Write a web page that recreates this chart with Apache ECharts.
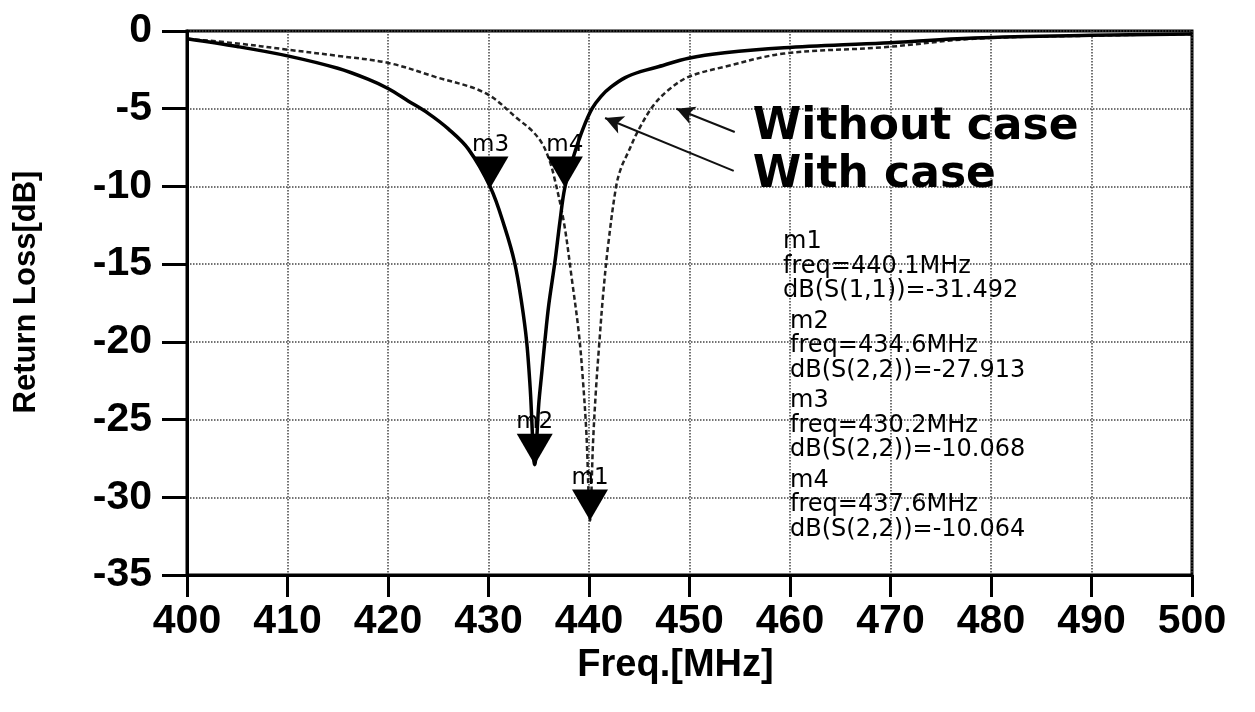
<!DOCTYPE html>
<html><head><meta charset="utf-8">
<script src="https://cdn.jsdelivr.net/npm/echarts@6/dist/echarts.min.js"></script>
<style>html,body{margin:0;padding:0;background:#fff}#c{width:1255px;height:712px}</style>
</head><body><div id="c"></div>
<script>
// ---- data ----
const freqWith = [400, 405, 410, 415, 418, 420, 422, 424, 426, 428, 430.2, 431.6, 432.6, 433.3, 433.8, 434.15, 434.6, 435.0, 435.3, 435.6, 436.0, 436.6, 437.1, 437.6, 438.5, 439.4, 440.3, 441.2, 442.2, 443.6, 445.2, 446.9, 449.9, 453.5, 459.4, 469.3, 478.3, 490, 500];
const dbWith   = [-0.5, -1.0, -1.6, -2.4, -3.1, -3.7, -4.5, -5.3, -6.3, -7.6, -10.07, -12.6, -14.9, -17.5, -20.0, -23.0, -27.9, -24.0, -22.0, -20.0, -17.6, -14.9, -12.3, -10.06, -8.0, -6.3, -5.0, -4.2, -3.6, -3.0, -2.6, -2.3, -1.75, -1.4, -1.08, -0.77, -0.45, -0.28, -0.2];

const freqWithout = [400, 405, 410, 415, 420, 424.7, 429.7, 433.0, 434.3, 435.3, 436.0, 436.5, 437.5, 438.3, 439.0, 439.4, 439.75, 440.1, 440.4, 440.7, 441.0, 441.4, 441.9, 442.7, 443.2, 443.9, 444.9, 446.4, 447.9, 449.9, 453.5, 459.4, 469.3, 478.3, 490, 500];
const dbWithout   = [-0.5, -0.8, -1.2, -1.6, -2.05, -2.95, -4.0, -5.7, -6.4, -7.2, -8.2, -9.3, -12.3, -16.0, -19.5, -22.5, -26.0, -31.5, -26.5, -23.0, -20.3, -17.0, -13.8, -10.0, -8.8, -7.8, -6.4, -4.8, -3.8, -2.95, -2.3, -1.45, -1.05, -0.5, -0.3, -0.2];

const markerNames = ['m1', 'm2', 'm3', 'm4'];
const markerFreq  = [440.1, 434.6, 430.2, 437.6];
const markerDb    = [-31.492, -27.913, -10.068, -10.064];
const markerParam = ['S(1,1)', 'S(2,2)', 'S(2,2)', 'S(2,2)'];

const xMin = 400, xMax = 500, xStep = 10;
const yMin = -35, yMax = 0, yStep = 5;

const noteLabels = ['Without case', 'With case'];
const noteTextAt = [[456.3, -5.95], [456.3, -9.05]];
const noteTail   = [[454.5, -6.5], [454.4, -9.0]];
const noteHead   = [[448.7, -5.0], [441.6, -5.6]];

// ---- chart ----
const chart = echarts.init(document.getElementById('c'), null, {renderer: 'canvas'});
const zip = (a, b) => a.map((v, i) => [v, b[i]]);
const tri = 'path://M0,0 L20,0 L10,16 Z';

const option = {
  animation: false,
  backgroundColor: '#fff',
  grid: {left: 187, right: 63, top: 31, bottom: 137, show: true, borderColor: '#000', borderWidth: 3, backgroundColor: 'transparent'},
  xAxis: {
    type: 'value', min: xMin, max: xMax, interval: xStep,
    name: 'Freq.[MHz]', nameLocation: 'middle', nameGap: 64,
    nameTextStyle: {fontFamily: 'Liberation Sans', fontWeight: 'bold', fontSize: 38, color: '#000', padding: [0, 28, 0, 0]},
    axisLine: {show: true, onZero: false, lineStyle: {color: '#000', width: 3}},
    axisTick: {show: true, inside: false, length: 22, lineStyle: {color: '#000', width: 3}},
    axisLabel: {margin: 26, fontFamily: 'Liberation Sans', fontWeight: 'bold', fontSize: 41, color: '#000'},
    splitLine: {show: true, lineStyle: {color: '#444', type: 'dotted', width: 1.5}}
  },
  yAxis: {
    type: 'value', min: yMin, max: yMax, interval: yStep,
    name: 'Return Loss[dB]', nameLocation: 'middle', nameGap: 145,
    nameTextStyle: {fontFamily: 'Liberation Sans', fontWeight: 'bold', fontSize: 31, color: '#000', padding: [0, 0, 0, 22]},
    axisLine: {show: true, onZero: false, lineStyle: {color: '#000', width: 3}},
    axisTick: {show: true, inside: false, length: 25, lineStyle: {color: '#000', width: 3}},
    axisLabel: {margin: 35, fontFamily: 'Liberation Sans', fontWeight: 'bold', fontSize: 41, color: '#000'},
    splitLine: {show: true, lineStyle: {color: '#444', type: 'dotted', width: 1.5}}
  },
  series: [
    {
      name: 'Without case', type: 'line', data: zip(freqWithout, dbWithout),
      showSymbol: false, smooth: 0.35, z: 3,
      lineStyle: {color: '#222', width: 2.5, type: [5, 3]},
      markLine: {
        silent: true, symbol: ['none', 'arrow'], symbolSize: [14, 18],
        lineStyle: {color: '#111', width: 2, type: 'solid'}, label: {show: false},
        data: noteTail.map((t, i) => [{coord: t}, {coord: noteHead[i]}])
      }
    },
    {
      name: 'With case', type: 'line', data: zip(freqWith, dbWith),
      showSymbol: false, smooth: 0.35, z: 4,
      lineStyle: {color: '#000', width: 3.5, type: 'solid'}
    },
    {
      name: 'markers', type: 'scatter', z: 6,
      data: markerNames.map((n, i) => ({name: n, value: [markerFreq[i], markerDb[i]]})),
      symbol: tri, symbolSize: [36, 31], symbolOffset: [0, '-50%'], symbolKeepAspect: false,
      itemStyle: {color: '#000', opacity: 1},
      label: {show: true, position: 'top', distance: 0, formatter: '{b}',
              fontFamily: 'DejaVu Sans', fontSize: 23, color: '#000'}
    }
  ]
};
chart.setOption(option);

// annotation texts and marker readout block
const g = [];
noteLabels.forEach((t, i) => {
  const p = chart.convertToPixel({gridIndex: 0}, noteTextAt[i]);
  g.push({type: 'text', left: p[0], top: p[1] - 18, z: 10,
    style: {text: t, font: 'bold 44px "DejaVu Sans"', fill: '#000'}});
});
markerNames.forEach((n, i) => {
  const x = i === 0 ? 783 : 790;
  const y0 = 230 + i * 79.5;
  const lines = [n, 'freq=' + markerFreq[i].toFixed(1) + 'MHz', 'dB(' + markerParam[i] + ')=' + markerDb[i].toFixed(3)];
  lines.forEach((s, k) => {
    g.push({type: 'text', left: x, top: y0 + k * 24.5, z: 10,
      style: {text: s, font: '24px "DejaVu Sans"', fill: '#000'}});
  });
});
chart.setOption({graphic: g});
</script>
</body></html>
